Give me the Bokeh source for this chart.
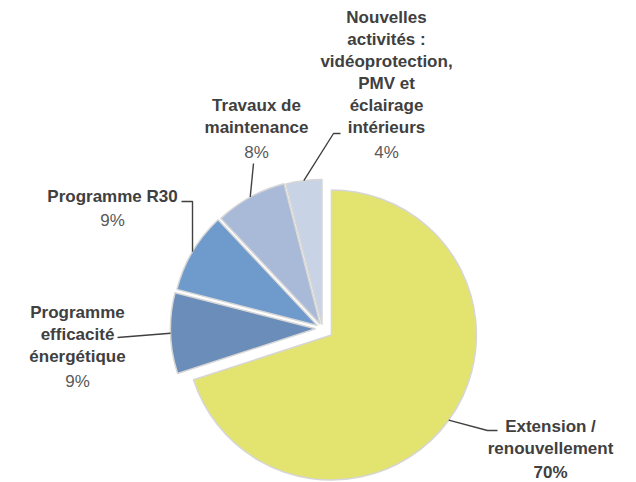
import math
from bokeh.plotting import figure
from bokeh.models import Range1d, ColumnDataSource
from bokeh.core.properties import value
from bokeh.embed import file_html
from bokeh.resources import INLINE

# ---------------- data ----------------
categories = [
    "Extension / renouvellement",
    "Programme efficacité énergétique",
    "Programme R30",
    "Travaux de maintenance",
    "Nouvelles activités : vidéoprotection, PMV et éclairage intérieurs",
]
shares = [70, 9, 9, 8, 4]
pct_labels = ["70%", "9%", "9%", "8%", "4%"]
name_lines = [
    ["Extension /", "renouvellement"],
    ["Programme", "efficacité", "énergétique"],
    ["Programme R30"],
    ["Travaux de", "maintenance"],
    ["Nouvelles", "activités :", "vidéoprotection,", "PMV et", "éclairage", "intérieurs"],
]

# ---------------- styles / layout ----------------
colors = ["#E3E36F", "#6A8DB9", "#6F9ACC", "#A9BAD9", "#C8D3E6"]
pct_bold = [True, False, False, False, False]
explode = [11, 7, 6, 5, 4]

W, H = 636, 482


def X(px):
    return px


def Y(py):
    return H - py


CX, CY, R = 322, 328, 145          # pie centre / radius (page pixels)
label_anchor = [(550, 425.5), (77, 312), (112, 195.5), (256, 105), (386, 17)]
LINE_STEP = 22
PCT_STEP = 24.5
# leader lines: extra points after the slice-edge start point (page pixels)
leader_tail = [
    [(487, 430), (497, 430)],
    [(117, 337)],
    [(192, 201), (181, 201)],
    [(253, 163)],
    [(333, 133), (340, 133)],
]

FONT = "Liberation Sans"
FS = "17px"

p = figure(width=W, height=H, output_backend="svg", toolbar_location=None,
           x_range=Range1d(0, W), y_range=Range1d(0, H),
           min_border=0, x_axis_location=None, y_axis_location=None)
p.grid.visible = False
p.outline_line_color = None

total = float(sum(shares))
wx, wy, sa, ea, edge_pts = [], [], [], [], []
cum = 0.0
for s, e in zip(shares, explode):
    t1 = cum / total * 360.0
    cum += s
    t2 = cum / total * 360.0
    tm = math.radians((t1 + t2) / 2.0)
    vx = CX + e * math.sin(tm)
    vy = CY - e * math.cos(tm)
    wx.append(X(vx))
    wy.append(Y(vy))
    sa.append(math.radians(90 - t2))
    ea.append(math.radians(90 - t1))
    edge_pts.append((vx + R * math.sin(tm), vy - R * math.cos(tm)))

src = ColumnDataSource(dict(x=wx, y=wy, start=sa, end=ea, color=colors, cat=categories))
p.wedge(x="x", y="y", radius=R, start_angle="start", end_angle="end",
        direction="anticlock", fill_color="color", line_color="#D6D6D6",
        line_width=1.5, source=src)

# leader lines
for (sx, sy), tail in zip(edge_pts, leader_tail):
    pts = [(sx, sy)] + tail
    p.line([X(a) for a, b in pts], [Y(b) for a, b in pts],
           line_color="#404040", line_width=1.4)

# labels
nx, ny, nt = [], [], []
px_, py_, pt_ = [], [], []
bx, by, bt = [], [], []
for lines, (ax, ay), pct, bold in zip(name_lines, label_anchor, pct_labels, pct_bold):
    for i, ln in enumerate(lines):
        nx.append(X(ax))
        ny.append(Y(ay + i * LINE_STEP))
        nt.append(ln)
    yy = ay + (len(lines) - 1) * LINE_STEP + PCT_STEP
    if bold:
        bx.append(X(ax)); by.append(Y(yy)); bt.append(pct)
    else:
        px_.append(X(ax)); py_.append(Y(yy)); pt_.append(pct)

p.text(x=nx, y=ny, text=nt, text_align="center", text_baseline="middle",
       text_font=value(FONT), text_font_size=FS, text_font_style="bold",
       text_color="#404040")
p.text(x=bx, y=by, text=bt, text_align="center", text_baseline="middle",
       text_font=value(FONT), text_font_size=FS, text_font_style="bold",
       text_color="#404040")
p.text(x=px_, y=py_, text=pt_, text_align="center", text_baseline="middle",
       text_font=value(FONT), text_font_size=FS, text_color="#595959")

open("out.html", "w").write(file_html(p, INLINE))
